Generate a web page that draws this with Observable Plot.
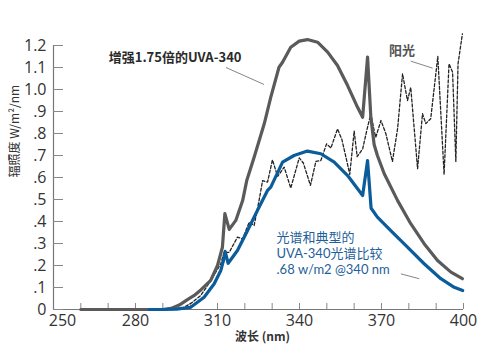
<!DOCTYPE html>
<html><head><meta charset="utf-8">
<script src="https://cdn.jsdelivr.net/npm/d3@7"></script>
<script src="https://cdn.jsdelivr.net/npm/@observablehq/plot@0.6"></script>
<style>body{margin:0;background:#fff}</style>
</head><body><div id="chart"></div>
<script>
// UVA-340 enhanced x1.75 (grey)
const grayNm = [260,270,280,290,293,296,299,301.5,304,307.5,310,311.8,312.7,314.3,316.7,319.2,320.7,323.4,327.1,329.5,332.5,333.8,336.8,339.9,342.9,346.6,350.3,353.9,357.6,361.2,363.1,364.9,366.1,367.3,368.5,371,375.9,380.7,385.6,390.5,395.4,399.6];
const grayVal = [0,0,0,0,0.005,0.02,0.045,0.064,0.09,0.132,0.2,0.283,0.436,0.364,0.405,0.495,0.586,0.692,0.844,0.965,1.101,1.124,1.192,1.22,1.227,1.215,1.17,1.109,1.018,0.92,0.874,1.147,0.874,0.75,0.70,0.617,0.495,0.39,0.299,0.223,0.17,0.14];
// typical UVA-340 (blue)
const blueNm = [285,290,295,300.2,305.1,308.8,311.2,312.2,312.8,313.9,317.3,321,324.6,328.3,329.5,333.8,338,342.9,347.8,352.7,357.6,363.1,364.9,366.2,368.5,373.4,379.5,385.6,391.7,396.6,399.7];
const blueVal = [0,0,0.002,0.01,0.056,0.117,0.177,0.223,0.264,0.21,0.268,0.359,0.45,0.541,0.556,0.67,0.7,0.72,0.708,0.67,0.609,0.518,0.677,0.46,0.42,0.359,0.283,0.208,0.14,0.101,0.086];
// sunlight (dashed)
const sunNm = [293,297.8,300.5,303.9,307.5,311.2,312.4,314.3,317.3,319.2,321.6,323.4,325.2,326.5,328.3,330.1,332,334.4,336.8,339.9,341.4,344,346,347.8,349.9,351.5,353.9,355.5,357,358.4,360,361.1,363.1,364.9,366.1,367.3,367.9,369.8,371.6,374,375.9,377.7,379.5,380.7,383.2,385,386.2,388,390.6,392.9,394.7,396,397.2,398,399.6];
const sunVal = [0,0.01,0.03,0.064,0.13,0.208,0.26,0.26,0.329,0.321,0.397,0.382,0.495,0.586,0.579,0.68,0.605,0.647,0.552,0.689,0.666,0.564,0.673,0.677,0.753,0.734,0.821,0.773,0.692,0.614,0.811,0.695,0.73,0.829,0.889,0.814,0.783,0.859,0.799,0.673,0.823,1.071,0.95,1.009,0.64,0.89,0.845,0.867,1.15,0.614,1.117,1.079,0.673,1.117,1.253];

const yTicks = [0,0.1,0.2,0.3,0.4,0.5,0.6,0.7,0.8,0.9,1.0,1.1,1.2];
const yTickLabels = ["0",".1",".2",".3",".4",".5",".6",".7",".8",".9","1.0","1.1","1.2"];
const xTicks = [260,270,280,290,300,310,320,330,340,350,360,370,380,390,400];
const xLabelTicks = [280,310,340,370,400];
const xFirstLabel = [250];

const yTitle = "辐照度 W/m²/nm";
const xTitle = "波长 (nm)";
// annotations (text, position in data units, leader line ends)
const grayNote = {text: "增强1.75倍的UVA-340", x: 270.2, y: 1.145, lx1: 313.1, ly1: 1.1, lx2: 327, ly2: 1.023};
const sunNote = {text: "阳光", x: 372.7, y: 1.177, lx1: 380.7, ly1: 1.129, lx2: 388.7, ly2: 1.097};
const blueLines = ["光谱和典型的", "UVA-340光谱比较", ".68 w/m2 @340 nm"];
const blueNote = {text: blueLines.join("\n"), x: 331.6, y: 0.257};
const blueLeader = {lx1: 377.1, ly1: 0.162, lx2: 383.8, ly2: 0.14};

const gray = grayNm.map((x, i) => ({x, y: grayVal[i]}));
const blue = blueNm.map((x, i) => ({x, y: blueVal[i]}));
const sun = sunNm.map((x, i) => ({x, y: sunVal[i]}));
const leaders = [grayNote, sunNote, blueLeader];

const chart = Plot.plot({
  width: 496, height: 357,
  marginLeft: 53, marginRight: 33, marginTop: 45, marginBottom: 48,
  x: {domain: [250, 400]},
  y: {domain: [0, 1.2]},
  style: {fontFamily: "'Open Sans', 'Noto Sans CJK SC', sans-serif", background: "#fff", color: "#333"},
  marks: [
    Plot.ruleY([0], {stroke: "#777", strokeWidth: 1.2}),
    Plot.ruleX([250], {y1: 0, y2: 1.2, stroke: "#777", strokeWidth: 1.2}),
    Plot.axisY({ticks: yTicks, tickSize: -10, stroke: "#888", tickFormat: () => ""}),
    Plot.axisY({ticks: yTicks, tickSize: 0, tickPadding: 7, fontSize: 16, fill: "#333",
      tickFormat: (d) => yTickLabels[yTicks.indexOf(d)]}),
    Plot.axisX({ticks: xTicks, tickSize: -6, stroke: "#888", tickFormat: () => ""}),
    Plot.axisX({ticks: xLabelTicks, tickSize: 0, tickPadding: 5, fontSize: 16, fill: "#333", tickFormat: d3.format("d")}),
    Plot.axisX({ticks: xFirstLabel, tickSize: 0, tickPadding: 5, dx: 9, fontSize: 16, fill: "#333", tickFormat: d3.format("d")}),
    Plot.text([yTitle], {frameAnchor: "left", rotate: -90, dx: -38, fontSize: 12, fill: "#333", fontFamily: "'Noto Sans CJK SC', sans-serif"}),
    Plot.text([xTitle], {frameAnchor: "bottom", dy: 31, dx: 4, fontSize: 12, fontWeight: 600, fill: "#333", fontFamily: "'Noto Sans CJK SC', sans-serif"}),
    Plot.line(sun, {x: "x", y: "y", stroke: "#222", strokeWidth: 1.3, strokeDasharray: "3,2", clip: false}),
    Plot.line(gray, {x: "x", y: "y", stroke: "#5a5a5a", strokeWidth: 3.2, strokeLinejoin: "round"}),
    Plot.line(blue, {x: "x", y: "y", stroke: "#0b5c9a", strokeWidth: 3.2, strokeLinejoin: "round"}),
    Plot.link(leaders, {x1: "lx1", y1: "ly1", x2: "lx2", y2: "ly2", stroke: "#666", strokeWidth: 0.8}),
    Plot.text([grayNote], {x: "x", y: "y", text: "text", textAnchor: "start", fontSize: 13, fontWeight: 600, fill: "#2a2a2a", fontFamily: "'Noto Sans CJK SC', sans-serif"}),
    Plot.text([sunNote], {x: "x", y: "y", text: "text", textAnchor: "start", fontSize: 13, fontWeight: 600, fill: "#555", fontFamily: "'Noto Sans CJK SC', sans-serif"}),
    Plot.text([blueNote], {x: "x", y: "y", text: "text", textAnchor: "start", lineAnchor: "middle", lineHeight: 1.2, fontSize: 13, fill: "#1f5f99", fontFamily: "Lato, 'Noto Sans CJK SC', sans-serif"})
  ]
});
document.getElementById("chart").appendChild(chart);
</script>
</body></html>
